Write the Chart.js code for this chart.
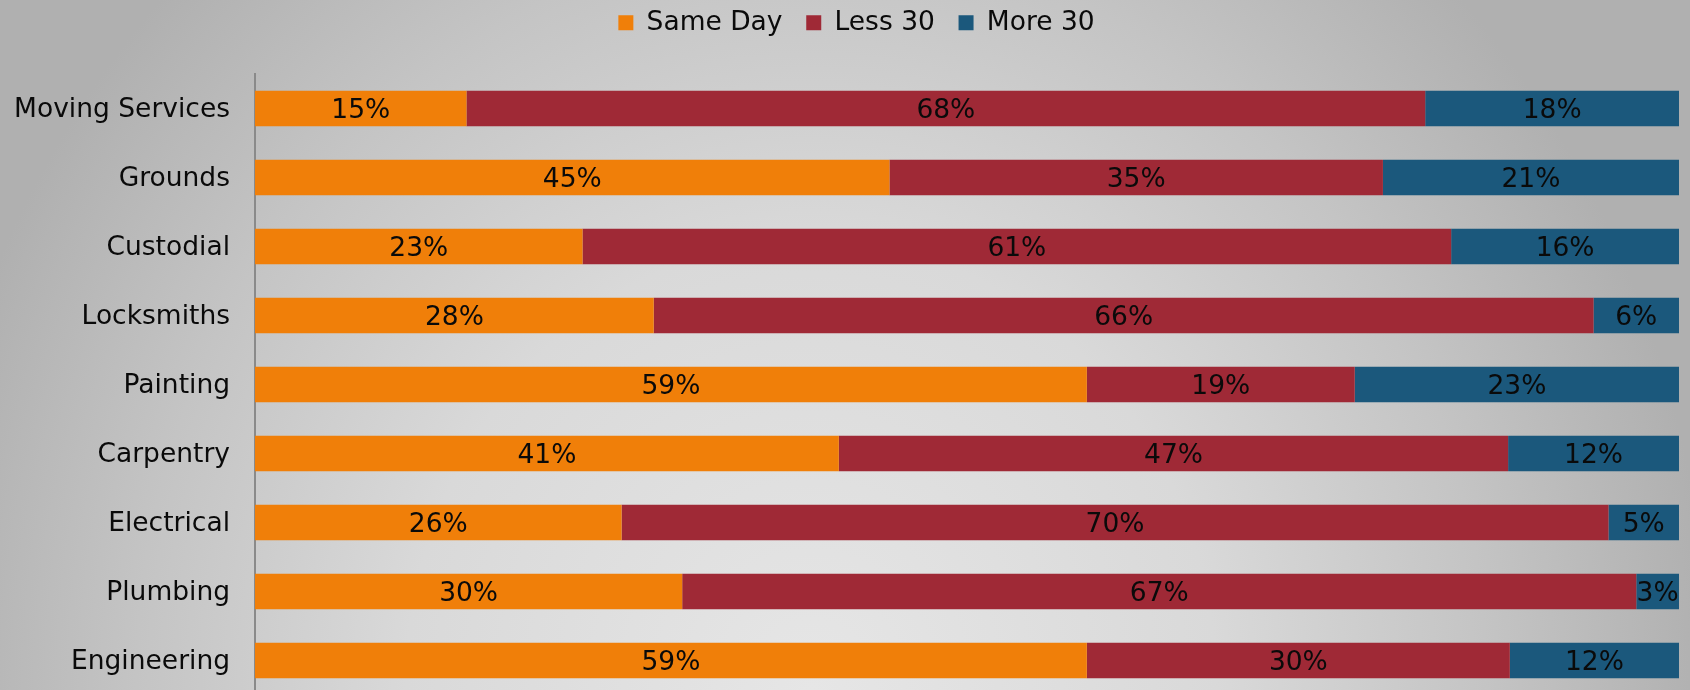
<!DOCTYPE html>
<html>
<head>
<meta charset="utf-8">
<script src="https://cdn.jsdelivr.net/npm/chart.js@4.4.1/dist/chart.umd.min.js"></script>
<style>
  html, body { margin: 0; padding: 0; overflow: hidden; width: 1690px; height: 690px; }
  #wrap {
    position: relative; width: 1690px; height: 690px; overflow: hidden;
    background: radial-gradient(ellipse 900px 1000px at 48% 100%, #e6e6e6 0%, #d9d9d9 45%, #c4c4c4 75%, #b0b0b0 100%);
  }
  canvas { display: block; }
</style>
</head>
<body>
<div id="wrap"><canvas id="c" width="1690" height="695"></canvas></div>
<script>
const categories = ["Moving Services", "Grounds", "Custodial", "Locksmiths", "Painting", "Carpentry", "Electrical", "Plumbing", "Engineering"];
const sameDay = [15, 45, 23, 28, 59, 41, 26, 30, 59];
const less30  = [68, 35, 61, 66, 19, 47, 70, 67, 30];
const more30  = [18, 21, 16, 6, 23, 12, 5, 3, 12];
const seriesNames = ["Same Day", "Less 30", "More 30"];
const seriesColors = ["#F07F09", "#9F2936", "#1B587C"];

const FONT = "'DejaVu Sans', Verdana, sans-serif";
const raw = [sameDay, less30, more30];
const totals = categories.map((_, i) => raw.reduce((s, arr) => s + arr[i], 0));
const datasets = raw.map((arr, k) => ({
  label: seriesNames[k],
  data: arr.map((v, i) => v / totals[i] * 100),
  rawValues: arr,
  backgroundColor: seriesColors[k],
  borderWidth: 0,
  barPercentage: 0.514,
  categoryPercentage: 1.0
}));

const valueLabels = {
  id: 'valueLabels',
  afterDatasetsDraw(chart) {
    const ctx = chart.ctx;
    ctx.save();
    ctx.font = "26.5px " + FONT;
    ctx.fillStyle = "#0a0a0a";
    ctx.textAlign = "center";
    ctx.textBaseline = "middle";
    chart.data.datasets.forEach((ds, di) => {
      const meta = chart.getDatasetMeta(di);
      meta.data.forEach((el, i) => {
        const p = el.getProps(['x', 'y', 'base'], true);
        const cx = (p.x + p.base) / 2;
        ctx.fillText(ds.rawValues[i] + "%", cx, p.y + 2.5);
      });
    });
    ctx.restore();
  }
};

const legendShift = {
  id: 'legendShift',
  afterLayout(chart) {
    const l = chart.legend;
    if (!l) return;
    l.left += 10; l.right += 10;
    l.top -= 28; l.bottom -= 28;
  }
};

new Chart(document.getElementById('c'), {
  type: 'bar',
  data: { labels: categories, datasets },
  plugins: [legendShift, valueLabels],
  options: {
    indexAxis: 'y',
    responsive: false,
    animation: false,
    layout: { autoPadding: false, padding: { left: 14, right: 11, top: 13.8, bottom: 0 } },
    plugins: {
      legend: {
        position: 'top',
        labels: {
          boxWidth: 15,
          boxHeight: 15,
          padding: 23.7,
          color: "#0a0a0a",
          font: { family: FONT, size: 26.5 }
        }
      },
      tooltip: { enabled: false }
    },
    scales: {
      x: {
        stacked: true,
        min: 0,
        max: 100,
        display: false
      },
      y: {
        stacked: true,
        afterFit(scale) {
          scale.width = 241;
          scale.paddingTop = 0;
          scale.paddingBottom = 0;
        },
        grid: { display: false, drawTicks: false },
        border: { display: true, color: "#8a8a8a", width: 2 },
        ticks: {
          color: "#0a0a0a",
          padding: 25,
          labelOffset: 2,
          font: { family: FONT, size: 26.5 }
        }
      }
    }
  }
});
</script>
</body>
</html>
